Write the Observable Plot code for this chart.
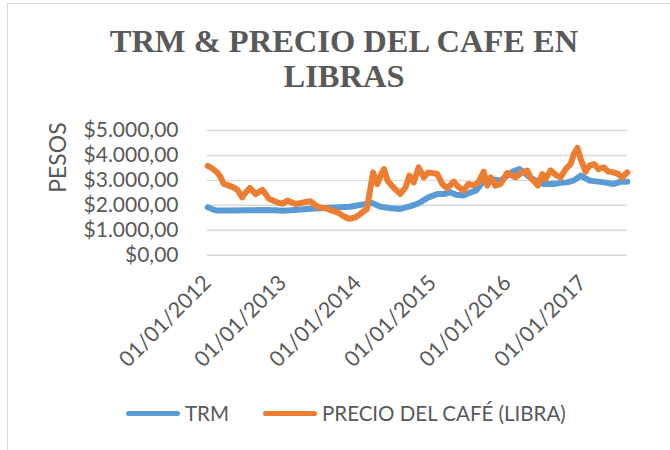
<!DOCTYPE html>
<html>
<head>
<meta charset="utf-8">
<script src="https://cdn.jsdelivr.net/npm/d3@7"></script>
<script src="https://cdn.jsdelivr.net/npm/@observablehq/plot@0.6"></script>
<style>
  html, body { margin: 0; padding: 0; background: #fff; }
  #wrap { position: relative; width: 670px; height: 450px; overflow: hidden; background: #fff; }
  #frame { position: absolute; left: 7px; top: 3px; width: 680px; height: 460px; border: 1px solid #d9d9d9; box-sizing: border-box; }
  #title { position: absolute; left: 18px; top: 24px; width: 652px; text-align: center;
           font-family: "Liberation Serif", "Times New Roman", serif; font-weight: bold;
           font-size: 32.5px; line-height: 35px; color: #595959; }
  #chart { position: absolute; left: 0; top: 100px; }
  #legend { position: absolute; left: 0; top: 398px; width: 670px; height: 30px;
            font-family: Lato, "Open Sans", sans-serif; font-size: 20.5px; color: #595959; }
  .item { position: absolute; top: 0; display: flex; align-items: center; height: 30px; }
  .sw { display: inline-block; width: 54px; height: 5px; border-radius: 3px; margin-right: 5px; }
</style>
</head>
<body>
<div id="wrap">
  <div id="frame"></div>
  <div id="title">TRM &amp; PRECIO DEL CAFE EN<br>LIBRAS</div>
  <div id="chart"></div>
  <div id="legend"></div>
</div>
<script>
// ---- data ----
const trmDates = [
  "2012-01-02","2012-01-26","2012-02-17","2012-04-22","2012-07-04","2012-09-12","2012-11-25",
  "2013-01-01","2013-02-11","2013-04-02","2013-05-17","2013-07-04","2013-08-22","2013-10-09",
  "2013-11-25","2013-12-28","2014-02-14","2014-03-10","2014-04-23","2014-06-10","2014-07-28",
  "2014-09-12","2014-10-18","2014-11-01","2014-12-12","2015-01-24","2015-02-24","2015-03-28",
  "2015-04-25","2015-06-01","2015-06-30","2015-08-02","2015-08-30","2015-10-10","2015-11-28",
  "2015-12-30","2016-01-26","2016-02-28","2016-03-24","2016-04-22","2016-06-25","2016-08-12",
  "2016-09-15","2016-10-17","2016-11-19","2016-12-22","2017-02-04","2017-04-14","2017-06-01",
  "2017-07-04","2017-08-06"
];
const trmValues = [
  1920,1840,1790,1790,1800,1810,1800,
  1780,1800,1830,1860,1880,1900,1920,
  1940,1990,2055,2100,1940,1880,1855,
  1960,2055,2120,2320,2455,2455,2520,
  2420,2390,2500,2600,2900,3055,2990,
  3190,3350,3455,3300,3100,2855,2855,
  2900,2920,3000,3190,2990,2920,2855,
  2950,2950
];
const cafeDates = [
  "2012-01-02","2012-01-20","2012-02-17","2012-03-04","2012-03-20","2012-04-12","2012-05-06",
  "2012-05-26","2012-06-18","2012-07-04","2012-07-25","2012-08-22","2012-09-24","2012-10-10",
  "2012-10-26","2012-12-06","2013-01-01","2013-01-24","2013-03-05","2013-04-13","2013-05-17",
  "2013-06-19","2013-08-07","2013-09-24","2013-10-25","2013-11-20","2013-12-23","2014-01-24",
  "2014-02-15","2014-03-05","2014-03-17","2014-04-07","2014-04-23","2014-05-09","2014-05-27",
  "2014-06-15","2014-07-09","2014-07-28","2014-08-22","2014-09-10","2014-10-01","2014-10-25",
  "2014-11-19","2014-12-12","2015-01-24","2015-02-17","2015-03-13","2015-04-14","2015-05-08",
  "2015-06-01","2015-06-24","2015-07-20","2015-08-13","2015-09-07","2015-09-24","2015-10-10",
  "2015-11-03","2015-11-28","2015-12-30","2016-02-09","2016-03-12","2016-04-06","2016-04-22",
  "2016-05-28","2016-06-18","2016-07-04","2016-07-28","2016-08-26","2016-09-15","2016-10-10",
  "2016-11-03","2016-11-19","2016-12-06","2016-12-22","2017-01-15","2017-02-04","2017-02-25",
  "2017-03-19","2017-04-14","2017-05-07","2017-06-01","2017-06-24","2017-07-12","2017-08-06"
];
const cafeValues = [
  3580,3500,3320,3150,2860,2800,2720,
  2620,2320,2500,2700,2450,2620,2450,
  2260,2120,2060,2190,2050,2120,2160,
  1950,1860,1720,1560,1455,1520,1720,
  1850,2720,3320,2850,3200,3455,2990,
  2800,2600,2455,2720,3190,2920,3520,
  3120,3320,3255,2855,2680,2950,2720,
  2590,2855,2800,2920,3350,2790,3120,
  2790,2855,3300,3120,3320,3390,3120,
  2790,3255,3055,3400,3200,3120,3455,
  3655,4055,4300,3855,3350,3600,3655,
  3450,3520,3350,3320,3250,3120,3320
];
const seriesNames = ["TRM", "PRECIO DEL CAFÉ (LIBRA)"];
const seriesColors = ["#5B9BD5", "#ED7D31"];
const yTicks = [0, 1000, 2000, 3000, 4000, 5000];
const xTickDates = ["2012-01-01","2013-01-01","2014-01-01","2015-01-01","2016-01-01","2017-01-01"];
const xDomain = ["2012-01-01", "2017-08-07"];
const yLabel = "PESOS";

// ---- build ----
const trm = trmDates.map((d, i) => ({date: new Date(d), value: trmValues[i]}));
const cafe = cafeDates.map((d, i) => ({date: new Date(d), value: cafeValues[i]}));
const locale = d3.formatLocale({decimal: ",", thousands: ".", grouping: [3], currency: ["$", ""]});
const money = locale.format("$,.2f");
const dateFmt = d3.utcFormat("%d/%m/%Y");

const chart = Plot.plot({
  width: 670,
  height: 280,
  marginLeft: 207,
  marginRight: 43,
  marginTop: 30,
  marginBottom: 125.3,
  x: {type: "utc", domain: xDomain.map(d => new Date(d))},
  y: {domain: [0, 5000]},
  style: {fontFamily: 'Lato, "Open Sans", sans-serif', color: "#595959", background: "transparent", overflow: "visible"},
  marks: [
    Plot.gridY(yTicks, {stroke: "#d9d9d9", strokeOpacity: 1, strokeWidth: 1.4}),
    Plot.axisY(yTicks, {tickSize: 0, tickPadding: 29, tickFormat: money, fontSize: 21, label: null}),
    Plot.axisX(xTickDates.map(d => new Date(d)), {tickSize: 0, tickPadding: 24, tickRotate: -45, tickFormat: dateFmt, fontSize: 21.5, label: null}),
    Plot.line(trm, {x: "date", y: "value", stroke: seriesColors[0], strokeWidth: 6, strokeLinejoin: "round"}),
    Plot.line(cafe, {x: "date", y: "value", stroke: seriesColors[1], strokeWidth: 6, strokeLinejoin: "round"}),
    Plot.text([yLabel], {text: d => d, frameAnchor: "left", dx: -149, rotate: -90, fontSize: 23, fill: "#595959"})
  ]
});
document.getElementById("chart").appendChild(chart);

// legend
const legend = document.getElementById("legend");
const lefts = [126, 263];
seriesNames.forEach((name, i) => {
  const item = document.createElement("div");
  item.className = "item";
  item.style.left = lefts[i] + "px";
  const sw = document.createElement("span");
  sw.className = "sw";
  sw.style.background = seriesColors[i];
  const t = document.createElement("span");
  t.textContent = name;
  item.appendChild(sw);
  item.appendChild(t);
  legend.appendChild(item);
});
</script>
</body>
</html>
